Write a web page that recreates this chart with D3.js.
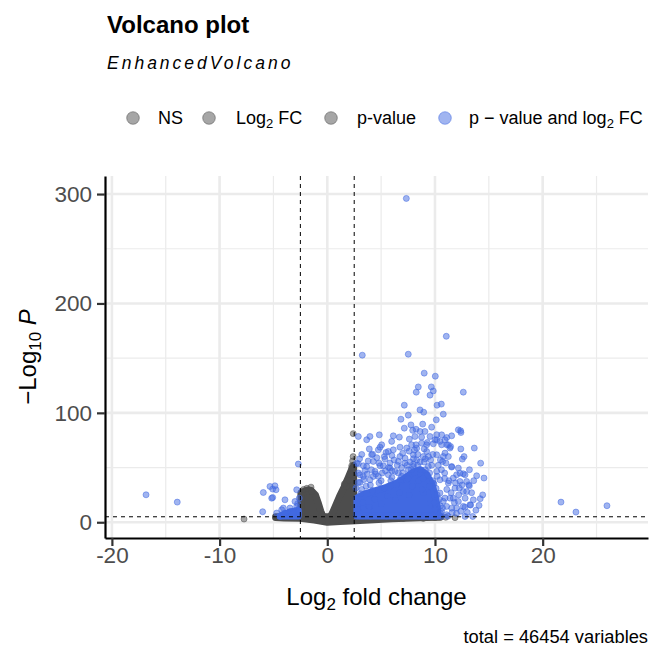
<!DOCTYPE html>
<html>
<head>
<meta charset="utf-8">
<script src="https://cdn.jsdelivr.net/npm/d3@7"></script>
<style>
  html, body { margin: 0; padding: 0; background: #fff; }
  svg { display: block; font-family: "Liberation Sans", Arial, sans-serif; }
</style>
</head>
<body>
<svg id="chart" width="664" height="664"></svg>
<script>
// ---------------- data ----------------
const titleText = "Volcano plot";
const subtitleText = "EnhancedVolcano";
const captionText = "total = 46454 variables";
const cutoffFC = 2.5;          // vertical dashed lines at ±2.5
const cutoffP = 5;             // -log10(1e-5)
const xTicksMajor = [-20, -10, 0, 10, 20];
const xTicksMinor = [-15, -5, 5, 15, 25];
const yTicksMajor = [0, 100, 200, 300];
const yTicksMinor = [50, 150, 250];
const xDomain = [-20.64, 29.78];
const yDomain = [-14.4, 316.5];
const legendKeys = ["NS", "Log2 FC", "p-value", "p - value and log2 FC"];

// saturated (overplotted) point clouds, as outlines of point centres [log2FC, -log10P]
const nsBand = [[-4.8,4.4],[-4,3.9],[-2.5,3.7],[-1.2,2],[0,0],[1.2,0.6],[2.6,1.4],[6,3.2],[9.2,4.4],[10.5,4.6],[10.5,5],[-4.8,5]];
const nsHumpLeft = [[-2.45,4],[-2.45,27],[-2.2,28],[-1.8,29.5],[-1.5,29],[-1.1,25],[-0.85,18],[-0.6,10],[-0.35,4],[-0.1,1.5]];
const nsHumpRight = [[0.1,1.5],[0.5,9],[0.85,17],[1.15,24],[1.55,32],[1.95,41],[2.25,48],[2.45,52],[2.45,4]];
const sigCoreRight = [[2.75,5.8],[2.75,22],[3.5,26],[4.5,29],[5.5,32],[6.5,36],[7.3,41],[8.0,46],[8.6,48],[9.2,44],[9.7,35],[10.0,25],[10.2,15],[10.3,5.8]];
const sigCoreLeft = [[-4.4,5.6],[-3.9,8],[-3.2,10],[-2.7,11],[-2.7,5.6]];

// individually visible NS points
const nsPoints = [[-7.73,2.9],[11.86,4.2],[2.41,81],[-1.51,32.1],[-1.45,28],[2.27,49.5],[2.1,43.4],[1.95,38.2],
  [1.8,32.7],[2.27,51.6],[1.58,34.9],[8.6,4.5],[4.27,4.3],[5.82,4.3],[7.06,3.5],[7.83,4.3],[8.92,3.5],[10,4.2],[11,4.5],
  [2.4,60],[2.35,56],[-2.2,30],[-1.9,31]];

// individually visible significant points (p-value and log2 FC)
const sigPoints = [
  [-16.83,25.1],[-13.93,18.4],[-2.69,53.2],[-5.94,27.2],[-5.32,32.7],[-4.86,33.3],[-5.07,30.3],[-4.76,29.7],
  [-5.07,22.6],[-3.93,20.5],[-2.84,29.7],[-6.0,9.6],[-4.08,13],[-3.0,19],[-3.46,9.9],[-3.93,7.8],[-2.84,14.4],
  [-2.69,9.9],[-3.3,6.8],[-5.16,22],[-4.23,11.4],[-3.46,13],[-3.16,8.4],[-4.39,5.3],[-4.7,8.4],[-2.75,17],[-2.6,22],
  [21.7,18.4],[23.09,9.3],[25.97,15.1],
  [7.34,296],[11.05,170],[3.25,152.7],[7.52,153.6],[9.0,136.3],[10.03,133.5],[8.45,123.7],[8.26,118.9],[9.66,123.7],
  [9.84,120],[9.54,116.2],[12.63,118.9],[7.15,107],[10.19,107],[10.59,108],[8.61,102.7],[8.95,100.6],[7.52,97.9],
  [10.77,98.8],[6.84,94.2],[10.12,93.6],
  [7.15,86],[7.77,89],[8.24,85],[8.86,89.7],[8.61,83],[12.17,84.5],[12.38,83.6],[9.69,86.9],[13.65,67.8],[14.24,54],
  [14.55,40.4],[13.87,42.5],[14.43,25],[14.09,15.4],[13.25,16],[12.63,14.5],[12.79,5.3],[13.5,5.3],[12.54,57.7],
  [13.19,33.3],[12.94,28],[12.26,31.2],[12.01,43.4],[12.79,43.4],[12.17,49.5],[11.55,50.4],[11.24,60],[11.09,70.8],
  [11.39,67.8],[11.55,79],[11.09,77.4],[10.62,70.8],[10.16,75.3],[14.2,21.5],[13.13,34.2],[12.94,37.3],[10.93,63.2],
  [10.71,55.5],[11.7,40.4],[11.7,22],[12.41,82],
  [7.93,84],[9.07,83],[10.16,80],[2.88,78.4],[3.66,75.4],[3.96,78.4],[4.83,79.9],[6.13,79],[6.69,77.8],[5.98,73.9],
  [7.62,76],[8.76,72.3],[9.29,72.9],[9.85,71.7],[10.46,73.9],[8.24,70.8],[7.37,67.8],[5.05,70.8],[4.74,66.2],
  [5.45,63.8],[6.13,66.2],[6.75,60.1],[4.12,61.7],[4.27,55.6],[2.88,53.5],[3.66,51],[3.5,47.4],[4.43,46.5],[5.2,51.6],
  [5.82,54.1],[6.6,55.6],[7.22,58.6],[7.99,61.7],[9.23,64.7],[10.16,61.7],[10.77,60.1],[11.02,54.1],[9.38,51],
  [8.61,44.9],[7.99,51],[7.52,48],[6.29,46.5],[5.67,43.4],[4.74,41.9],[3.96,38.8],[3.04,43.4],[2.88,36.4],[2.66,31.2],
  [6.75,38.8],[7.37,38.8],[10.16,46.5],[10.46,38.8],[9.85,35.8],[10.46,26.7],[10.77,19.1],[10.34,6.9],[11.08,6.9],
  [9.54,17.5],[8.92,26.7],
  [11.24,70.8],[11.45,69.2],[11.55,51],[12.32,44.9],[12.63,44.3],[12.32,37.3],[11.24,35.8],[11.86,31.2],[12.63,28.1],
  [13.56,20.5],[12.17,19],[10.93,22.1],[11.08,14.5],[11.55,12.9],[12.79,13.8],[13.31,15.7],[12.01,13],[10.62,5.3],[11.2,5.5],
  [4.9,68.6],[4.21,62.2],[3.35,51.6],[2.73,54],[4.9,51.6],[5.36,57.7],[5.67,64.7],[6.75,68.6],[4.27,41.9],[3.35,41.9],
  [3.04,36.4],[5.82,49.5],[7.83,70.8],[8.3,67.7],[9.23,70.8],[8.76,77.8],[8.14,78.4],[9.54,78.4],[10.0,75.3],
  [10.62,79.9],[10.93,75.3],
  [3.2,30],[4.0,34],[5.0,38],[6.0,41],[7.0,45],[8.0,53],[9.0,55],[9.5,45],[9.9,35],[10.2,25],[10.5,15],[10.6,10],
  [3.0,8],[2.8,12],[3.0,5.8],[4.0,5.6],[5.5,5.7],[7.0,5.6],[8.5,5.8],[9.5,5.6],
  [3.1,26],[3.6,33],[4.2,29],[4.8,36],[5.3,31],[5.9,38],[6.4,34],[6.9,42],[7.5,40],[8.1,45],[8.7,48],[9.3,43],
  [9.8,38],[10.1,31],[10.4,21],[10.7,13],[3.4,39],[4.5,44],[5.1,45],[6.0,47],[6.9,50],[7.7,55],[8.3,57],[8.9,60],
  [9.6,57],[10.3,52],[10.9,45],[11.3,38],[11.5,27],[11.8,18],[3.0,58],[3.8,56],[4.6,59],[5.4,47],[6.2,57],[7.0,63],
  [7.6,65],[8.4,62],[9.0,67],[9.8,62],[10.6,48],[11.1,30],[11.4,22],[12.2,25],[12.5,34],[12.0,8],[12.4,10],[11.6,9],
  [3.3,18],[4.4,21],[5.6,24],[6.7,27],[7.9,33],[8.5,38],[9.5,33],[10.0,12],[10.5,8],[3.9,14],[5.0,17],[6.3,20],
  [7.6,25],[8.8,30],[9.9,18],[2.9,45],[3.2,62],[3.9,67],[5.3,60],[6.5,52],[7.4,52],[8.1,66],[8.6,55],[9.1,58],
  [9.7,52],[10.5,57],[11.9,36],[12.8,22],[13.0,9],[13.8,11],[13.4,27],[12.4,67],[12.7,60],[13.2,48],[13.6,38],
  [4.1,48],[5.7,50],[6.6,45],[7.8,48],[8.4,52],[9.4,60],[8.0,58],[7.2,54],[6.0,61],[4.8,54],[3.7,44],[10.9,40],
  [10.2,42],[9.1,48],[8.9,40]
];

// ---------------- drawing ----------------
const svg = d3.select("#chart");
const panel = {left: 105, right: 648, top: 176, bottom: 538};
const x = d3.scaleLinear().domain(xDomain).range([panel.left, panel.right]);
const y = d3.scaleLinear().domain(yDomain).range([panel.bottom, panel.top]);

const GREY = "#4D4D4D", BLUE = "#4169E1", GRID = "#EBEBEB";
const R = 3.0, SW = 1;

// grid
const grid = svg.append("g");
grid.selectAll("line.xmin").data(xTicksMinor).join("line")
  .attr("x1", d => x(d)).attr("x2", d => x(d)).attr("y1", panel.top).attr("y2", panel.bottom)
  .attr("stroke", GRID).attr("stroke-width", 1.2);
grid.selectAll("line.ymin").data(yTicksMinor).join("line")
  .attr("y1", d => y(d)).attr("y2", d => y(d)).attr("x1", panel.left).attr("x2", panel.right)
  .attr("stroke", GRID).attr("stroke-width", 1.2);
grid.selectAll("line.xmaj").data(xTicksMajor).join("line")
  .attr("x1", d => x(d)).attr("x2", d => x(d)).attr("y1", panel.top).attr("y2", panel.bottom)
  .attr("stroke", GRID).attr("stroke-width", 2.6);
grid.selectAll("line.ymaj").data(yTicksMajor).join("line")
  .attr("y1", d => y(d)).attr("y2", d => y(d)).attr("x1", panel.left).attr("x2", panel.right)
  .attr("stroke", GRID).attr("stroke-width", 2.6);

// saturated clouds
const line = d3.line().x(d => x(d[0])).y(d => y(d[1])).curve(d3.curveLinearClosed);
const clouds = svg.append("g");
[nsBand, nsHumpLeft, nsHumpRight].forEach(poly => {
  clouds.append("path").attr("d", line(poly)).attr("fill", GREY)
    .attr("stroke", GREY).attr("stroke-width", 2 * (R + SW / 2)).attr("stroke-linejoin", "round");
});
svg.append("g").selectAll("circle").data(nsPoints).join("circle")
  .attr("cx", d => x(d[0])).attr("cy", d => y(d[1])).attr("r", R)
  .attr("fill", GREY).attr("fill-opacity", 0.5)
  .attr("stroke", GREY).attr("stroke-opacity", 0.5).attr("stroke-width", SW);

const cores = svg.append("g");
[sigCoreRight, sigCoreLeft].forEach(poly => {
  cores.append("path").attr("d", line(poly)).attr("fill", BLUE)
    .attr("stroke", BLUE).attr("stroke-width", 2 * (R + SW / 2)).attr("stroke-linejoin", "round");
});
svg.append("g").selectAll("circle").data(sigPoints).join("circle")
  .attr("cx", d => x(d[0])).attr("cy", d => y(d[1])).attr("r", R)
  .attr("fill", BLUE).attr("fill-opacity", 0.5)
  .attr("stroke", BLUE).attr("stroke-opacity", 0.5).attr("stroke-width", SW);

// cutoff lines
const cut = svg.append("g").attr("stroke", "#000").attr("stroke-width", 1).attr("stroke-dasharray", "4,4");
[-cutoffFC, cutoffFC].forEach(v => {
  cut.append("line").attr("x1", x(v)).attr("x2", x(v)).attr("y1", panel.top).attr("y2", panel.bottom);
});
cut.append("line").attr("x1", panel.left).attr("x2", panel.right).attr("y1", y(cutoffP)).attr("y2", y(cutoffP));

// axes
const xAxis = svg.append("g").attr("transform", `translate(0,${panel.bottom})`)
  .call(d3.axisBottom(x).tickValues(xTicksMajor).tickFormat(d => String(d)).tickSize(8).tickSizeOuter(0).tickPadding(1));
const yAxis = svg.append("g").attr("transform", `translate(${panel.left},0)`)
  .call(d3.axisLeft(y).tickValues(yTicksMajor).tickFormat(d => String(d)).tickSize(8).tickSizeOuter(0).tickPadding(5));
[xAxis, yAxis].forEach(g => {
  g.select(".domain").attr("stroke", "#000").attr("stroke-width", 2.2);
  g.selectAll(".tick line").attr("stroke", "#333").attr("stroke-width", 2.2);
  g.selectAll(".tick text").attr("fill", "#4D4D4D").attr("font-size", 22.5)
    .attr("font-family", "Liberation Sans, Arial, sans-serif");
});

// axis titles
const xt = svg.append("text").attr("x", (panel.left + panel.right) / 2).attr("y", 605)
  .attr("text-anchor", "middle").attr("font-size", 24).attr("fill", "#000");
xt.append("tspan").text("Log");
xt.append("tspan").attr("font-size", 17).attr("dy", 5).text("2");
xt.append("tspan").attr("dy", -5).text(" fold change");

const yt = svg.append("text").attr("transform", `translate(36,${(panel.top + panel.bottom) / 2}) rotate(-90)`)
  .attr("text-anchor", "middle").attr("font-size", 24).attr("fill", "#000");
yt.append("tspan").text("\u2212Log");
yt.append("tspan").attr("font-size", 17).attr("dy", 5).text("10");
yt.append("tspan").attr("dy", -5).text(" ");
yt.append("tspan").attr("font-style", "italic").text("P");

// title, subtitle, caption
svg.append("text").attr("x", 107).attr("y", 33).attr("font-size", 24).attr("font-weight", "bold")
  .attr("fill", "#000").text(titleText);
svg.append("text").attr("x", 107).attr("y", 69).attr("font-size", 17.5).attr("font-style", "italic")
  .attr("letter-spacing", 3).attr("fill", "#000").text(subtitleText);
svg.append("text").attr("x", 648).attr("y", 643).attr("text-anchor", "end").attr("font-size", 18.3)
  .attr("fill", "#000").text(captionText);

// legend
const legendColors = [GREY, GREY, GREY, BLUE];
const legendDotX = [133, 209, 331, 445];
const legendTextX = [158, 236, 357, 469];
const lg = svg.append("g");
legendKeys.forEach((k, i) => {
  lg.append("circle").attr("cx", legendDotX[i]).attr("cy", 118).attr("r", 6.3)
    .attr("fill", legendColors[i]).attr("fill-opacity", 0.5)
    .attr("stroke", legendColors[i]).attr("stroke-opacity", 0.5).attr("stroke-width", 1);
  const t = lg.append("text").attr("x", legendTextX[i]).attr("y", 124).attr("font-size", 18).attr("fill", "#000");
  if (k.indexOf("log2") >= 0 || k.indexOf("Log2") >= 0) {
    const parts = k.replace(" - ", " \u2212 ").split("2");
    t.append("tspan").text(parts[0]);
    t.append("tspan").attr("font-size", 13).attr("dy", 4).text("2");
    t.append("tspan").attr("dy", -4).text(parts[1]);
  } else {
    t.text(k);
  }
});
</script>
</body>
</html>
